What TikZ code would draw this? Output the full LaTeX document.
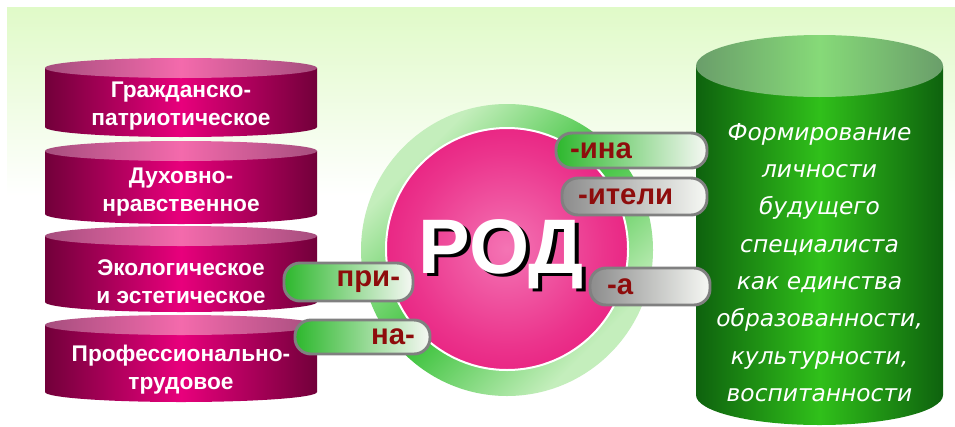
\documentclass[tikz,border=0pt]{standalone}
\usepackage{fontspec}
\setmainfont{Liberation Sans}
\newfontfamily\cylfont{DejaVu Sans}
\definecolor{bgtop}{HTML}{E0FAC8}
\definecolor{discdark}{HTML}{72003A}
\definecolor{discmid}{HTML}{E8007C}
\definecolor{lidedge}{HTML}{A64E7E}
\definecolor{lidmid}{HTML}{F46AAC}
\definecolor{ringlight}{HTML}{C4EEBC}
\definecolor{ringgreen}{HTML}{3AC23A}
\definecolor{rodlight}{HTML}{F474B4}
\definecolor{roddeep}{HTML}{E4006C}
\definecolor{tabgreen}{HTML}{2DB82D}
\definecolor{tabgrey}{HTML}{8C8C8C}
\definecolor{tabwhite}{HTML}{F6F8F4}
\definecolor{tabline}{HTML}{808080}
\definecolor{tabred}{HTML}{8E0C0C}
\definecolor{cyldark}{HTML}{0E620E}
\definecolor{cylmid}{HTML}{30C01A}
\definecolor{cyllidedge}{HTML}{6A9E6A}
\definecolor{cyllidmid}{HTML}{86DA78}
\pgfdeclareradialshading{rodglow}{\pgfpoint{0bp}{0bp}}{color(0bp)=(rodlight); color(20bp)=(rodlight!45!roddeep); color(40bp)=(roddeep); color(50bp)=(roddeep)}
\pgfdeclarehorizontalshading{ringband}{100bp}{color(0bp)=(ringlight); color(28bp)=(ringlight); color(50bp)=(ringgreen); color(72bp)=(ringlight); color(100bp)=(ringlight)}
\tikzset{
    disctext/.style={text=white, font=\bfseries\fontsize{17}{21}\selectfont, align=center},
    cyltext/.style={text=white, font=\cylfont\itshape\fontsize{17.5}{28}\selectfont, align=center},
    rodtext/.style={font=\bfseries\fontsize{58}{60}\selectfont, inner sep=0pt},
    tab/.style={draw=tabline, line width=2.2pt, rounded corners=12pt, inner ysep=0pt, text=tabred, font=\bfseries\fontsize{22}{24}\selectfont},
    greentab/.style={tab, left color=tabgreen, right color=tabwhite},
    greytab/.style={tab, left color=tabgrey, right color=tabwhite}
}
\begin{document}
\begin{tikzpicture}[x=0.75pt, y=0.75pt]
        \useasboundingbox (0,0) rectangle (955,426);
        \fill[white] (0,0) rectangle (955,426);
        \shade[top color=bgtop, bottom color=white] (7,230) rectangle (955,418);
        \foreach \yt/\yb in {358/299, 275/212, 190/124, 101/34} {
            \shade[left color=discdark, right color=discdark, middle color=discmid] (45,\yt) -- (45,\yb) arc[start angle=180, end angle=360, x radius=136, y radius=10] -- (317,\yt) -- cycle;
            \shade[left color=lidedge, right color=lidedge, middle color=lidmid] (181,\yt) ellipse [x radius=136, y radius=10];
        }
        \shade[shading=ringband, shading angle=-45] (507,176) circle (146);
        \shade[shading=rodglow, draw=white, line width=1.5pt] (507,177) circle (121);
        \shade[left color=cyldark, right color=cyldark, middle color=cylmid] (696,360) -- (696,31) arc[start angle=180, end angle=360, x radius=123.5, y radius=30] -- (943,360) -- cycle;
        \shade[left color=cyllidedge, right color=cyllidedge, middle color=cyllidmid] (819.5,360) ellipse [x radius=123.5, y radius=31];
        \node[disctext] (grazh) at (181,320) {Гражданско-\\патриотическое};
        \node[disctext] (duh) at (181,233.5) {Духовно-\\нравственное};
        \node[disctext] (eko) at (181,144.5) {Экологическое\\и эстетическое};
        \node[disctext] (prof) at (181,56.5) {Профессионально-\\трудовое};
        \node[cyltext] (formir) at (819.5,163.5) {Формирование\\личности\\будущего\\специалиста\\как единства\\образованности,\\культурности,\\воспитанности};
        \node[rodtext, text=black] (rodshadow) at (505,168.5) {РОД};
        \node[rodtext, text=white] (rod) at (501,172) {РОД};
        \node[greentab, text width=77.25pt, inner xsep=9.75pt, minimum height=28.5pt, align=right] (pri) at (348.5,144) {при-};
        \node[greentab, text width=78.75pt, inner xsep=11.25pt, minimum height=25.5pt, align=right] (na) at (362.5,89) {на-};
        \node[greentab, text width=92.25pt, inner xsep=10.5pt, minimum height=26.25pt, align=left] (ina) at (631.5,275.5) {-ина};
        \node[greytab, text width=84.75pt, inner xsep=12pt, minimum height=27.75pt, align=left] (iteli) at (634.5,229.5) {-ители};
        \node[greytab, text width=64.5pt, inner xsep=12.75pt, minimum height=27.75pt, align=left] (suffa) at (650,139.5) {-а};
\end{tikzpicture}
\end{document}
